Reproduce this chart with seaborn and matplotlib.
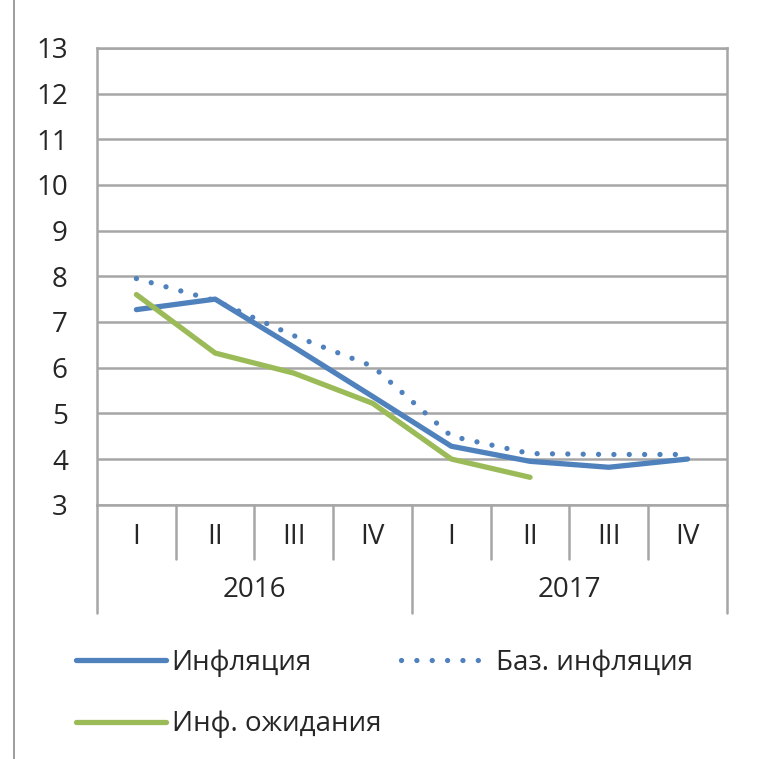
import numpy as np
import pandas as pd
import matplotlib
matplotlib.use("Agg")
import matplotlib.pyplot as plt
import matplotlib.transforms as mtransforms
from matplotlib.patches import Rectangle
import seaborn as sns

sns.set_style("white")
plt.rcParams['font.family'] = ['Open Sans', 'DejaVu Sans']

quarters = ["I", "II", "III", "IV", "I", "II", "III", "IV"]
years = ["2016", "2017"]
inflation = [7.27, 7.5, 6.45, 5.37, 4.28, 3.95, 3.82, 4.0]
core_inflation = [7.95, 7.47, 6.7, 6.03, 4.5, 4.12, 4.1, 4.1]
expectations = [7.6, 6.32, 5.88, 5.22, 4.0, 3.6, np.nan, np.nan]

df = pd.DataFrame({
    "pos": np.arange(len(quarters)),
    "Инфляция": inflation,
    "Баз. инфляция": core_inflation,
    "Инф. ожидания": expectations,
})

blue = "#4F81BD"
green = "#9BBB59"
grid_c = "#A6A6A6"
fs = 20

fig = plt.figure(figsize=(7.58, 7.59), dpi=100)
fig.patches.append(Rectangle((0.018, -0.01), 1.2, 1.03, transform=fig.transFigure,
                             fill=False, edgecolor="#8C8C8C", lw=1.2))
ax = fig.add_axes([0.128, 0.335, 0.831, 0.602])

sns.lineplot(data=df, x="pos", y="Инфляция", ax=ax, color=blue, lw=3.8,
             solid_capstyle="round", solid_joinstyle="round", label="Инфляция")
sns.lineplot(data=df, x="pos", y="Баз. инфляция", ax=ax, color=blue, lw=3.8,
             linestyle=(0, (0.01, 2.9)), dash_capstyle="round", label="Баз. инфляция")
sns.lineplot(data=df.dropna(), x="pos", y="Инф. ожидания", ax=ax, color=green, lw=3.8,
             solid_capstyle="round", solid_joinstyle="round", label="Инф. ожидания")

ax.set_xlim(-0.5, len(quarters) - 0.5)
ax.set_ylim(3, 13)
ax.set_yticks(range(3, 14))
ax.yaxis.grid(True, color=grid_c, lw=1.8)
ax.set_axisbelow(True)
for s in ax.spines.values():
    s.set_color(grid_c)
    s.set_linewidth(1.8)
ax.tick_params(axis="y", length=7, width=1.8, color=grid_c, labelsize=fs, pad=14)
ax.set_xticks(df["pos"])
ax.set_xticklabels(quarters)
ax.tick_params(axis="x", length=0, labelsize=fs, pad=13)
ax.set_xlabel("")
ax.set_ylabel("")

# multi-level category axis separators
tr = mtransforms.blended_transform_factory(ax.transData, ax.transAxes)
for b in np.arange(-0.5, len(quarters), 1):
    major = (b == -0.5) or (b == len(quarters) - 0.5) or (b == 3.5)
    ax.plot([b, b], [0, -0.236 if major else -0.118], transform=tr, color=grid_c,
            lw=1.8, clip_on=False)
for i, y in enumerate(years):
    ax.text(1.5 + 4 * i, -0.186, y, transform=tr, ha="center", va="center", fontsize=fs)

ax.get_legend().remove()
h, l = ax.get_legend_handles_labels()
order = [0, 2, 1]
fig.legend([h[i] for i in order], [l[i] for i in order], ncol=2, frameon=False,
           loc="upper left", bbox_to_anchor=(0.1, 0.145), fontsize=fs,
           borderaxespad=0, borderpad=0,
           handlelength=3.25, handletextpad=0.2, columnspacing=0.7, labelspacing=1.2)

fig.savefig("out.png", dpi=100)
